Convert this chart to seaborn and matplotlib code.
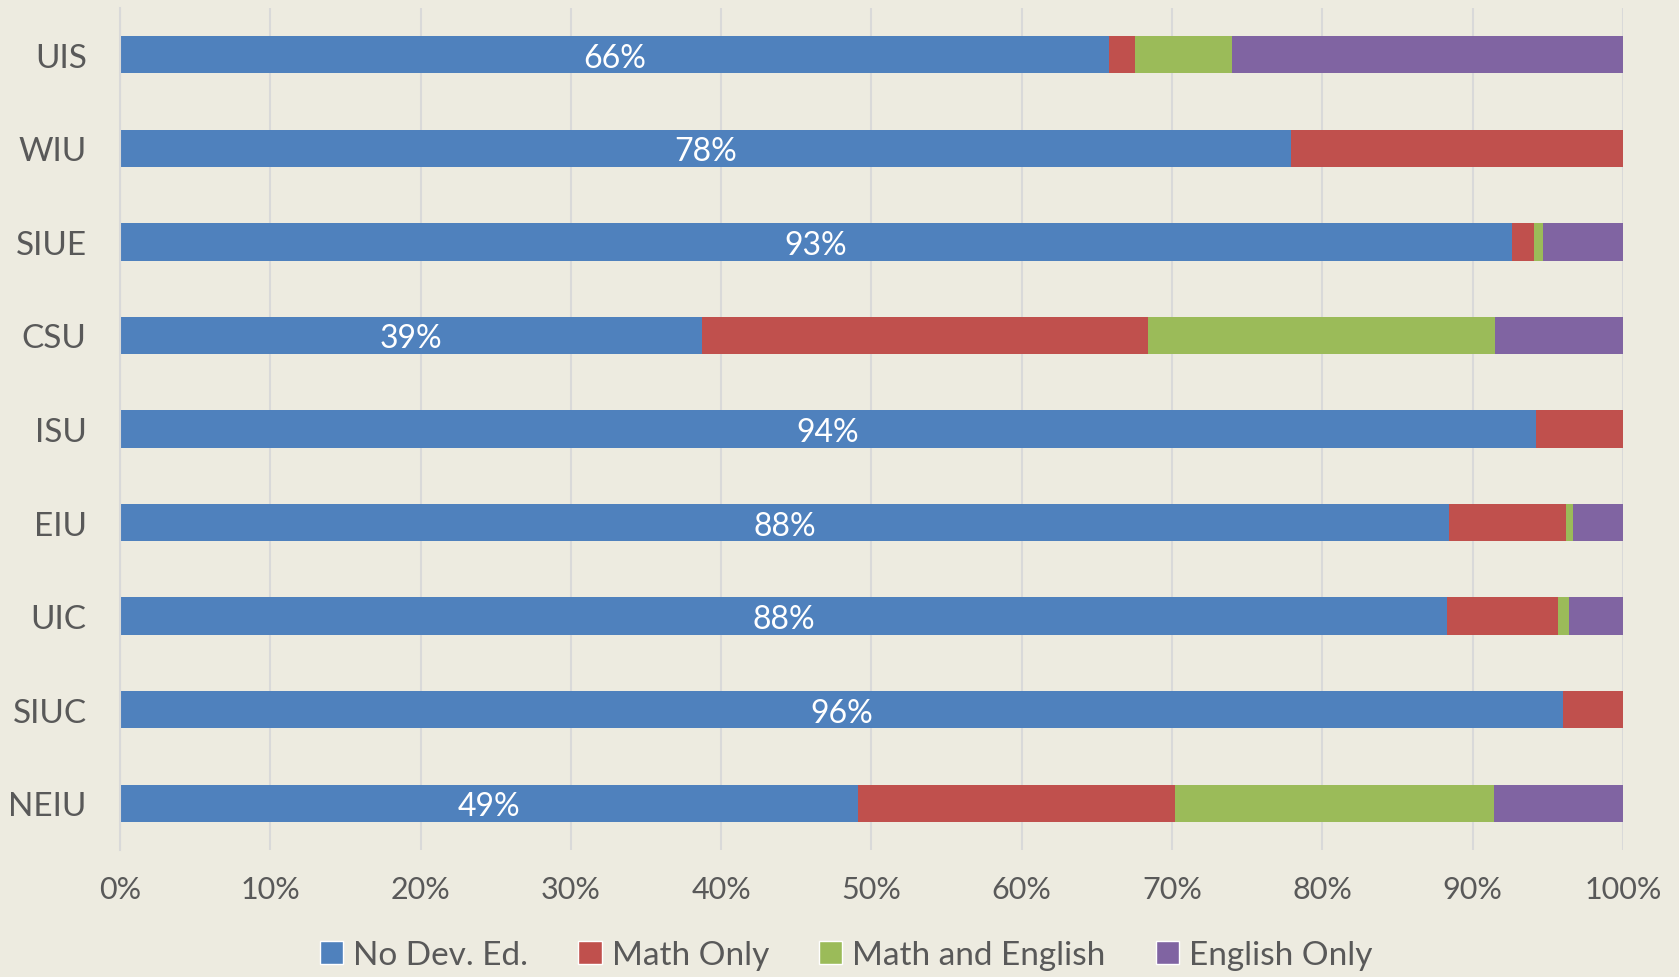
import matplotlib
matplotlib.use("Agg")
import matplotlib.pyplot as plt
from matplotlib.patches import Patch
import numpy as np
import pandas as pd
import seaborn as sns

schools = ["UIS", "WIU", "SIUE", "CSU", "ISU", "EIU", "UIC", "SIUC", "NEIU"]
no_dev = [65.8, 77.9, 92.6, 38.7, 94.2, 88.4, 88.3, 96.0, 49.1]
math_only = [1.7, 22.1, 1.5, 29.7, 5.8, 7.8, 7.4, 4.0, 21.1]
math_english = [6.5, 0.0, 0.6, 23.1, 0.0, 0.5, 0.7, 0.0, 21.2]
english_only = [26.0, 0.0, 5.3, 8.5, 0.0, 3.3, 3.6, 0.0, 8.6]

series = ["No Dev. Ed.", "Math Only", "Math and English", "English Only"]
colors = ["#4F81BD", "#C0504D", "#9BBB59", "#8064A2"]

bg = "#EDEBE0"
txt = "#595959"

sns.set_theme(style="white")
plt.rcParams["font.family"] = ["Lato", "DejaVu Sans"]

df = pd.DataFrame({"school": schools, "No Dev. Ed.": no_dev, "Math Only": math_only,
                   "Math and English": math_english, "English Only": english_only})
cum = df[series].cumsum(axis=1)

fig = plt.figure(figsize=(16.79, 9.78), dpi=100, facecolor=bg)
ax = fig.add_axes([120/1679, 1-851/978, (1623-120)/1679, (851-9)/978])
ax.set_facecolor(bg)

# stacked bars: draw cumulative totals back to front
for s, c in reversed(list(zip(series, colors))):
    sns.barplot(x=cum[s], y=df["school"], orient="h", color=c, width=0.4,
                saturation=1, linewidth=0, ax=ax)

labels = [f"{round(v)}%" for v in no_dev]
lbls = ax.bar_label(ax.containers[-1], labels=labels, label_type="center",
                    color="white", fontsize=23)
for t in lbls:
    t.set_y(t.get_position()[1])
    t.set_va("center_baseline")

ax.set_xlim(0, 100)
ax.set_ylim(8.5, -0.5)
ax.set_xticks(np.arange(0, 101, 10))
ax.set_xticklabels([f"{t}%" for t in range(0, 101, 10)])
ax.set_xlabel("")
ax.set_ylabel("")
ax.xaxis.grid(True, color="#D9D9D9", linewidth=1.5)
ax.set_axisbelow(True)
for sp in ["top", "right", "bottom"]:
    ax.spines[sp].set_visible(False)
ax.spines["left"].set_color("#D9D9D9")
ax.spines["left"].set_linewidth(1.5)
ax.tick_params(axis="x", length=0, pad=18, labelsize=22, labelcolor=txt)
ax.tick_params(axis="y", length=0, pad=24, labelsize=24, labelcolor=txt)

handles = [Patch(facecolor=c, label=s) for s, c in zip(series, colors)]
fig.legend(handles=handles, loc="center", bbox_to_anchor=(0.504, 1-956/978),
           ncol=4, frameon=False, fontsize=24, labelcolor=txt,
           handlelength=0.7, handleheight=0.7, handletextpad=0.3,
           columnspacing=1.5)

fig.savefig("out.png", dpi=100, facecolor=bg)
